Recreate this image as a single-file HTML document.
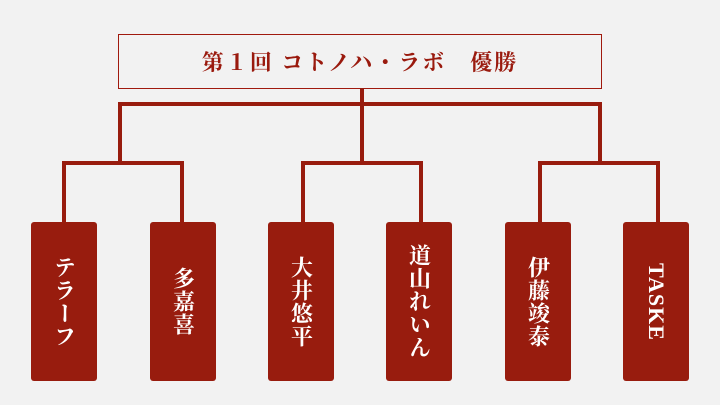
<!DOCTYPE html>
<html><head><meta charset="utf-8"><style>
body{margin:0;width:720px;height:405px;background:#f2f2f2;position:relative;overflow:hidden;font-family:"Liberation Serif","Noto Serif CJK SC",serif}
.t{position:absolute;left:118px;top:34px;width:482px;height:53px;border:1px solid #a01a0e;color:#9a1a0e;font-weight:bold;font-size:22px;display:flex;align-items:center;justify-content:center;letter-spacing:2px}
.l{position:absolute;background:#981c0e}
.b{position:absolute;top:222px;width:66px;height:159px;background:#981c0e;border-radius:3px;color:#fff;font-size:22px;font-weight:bold;display:flex;align-items:center;justify-content:center}
.b span{writing-mode:vertical-rl;letter-spacing:1px}
</style></head><body>
<div class="t">第１回 コトノハ・ラボ　優勝</div>
<div class="l" style="left:360px;top:88px;width:4px;height:16px"></div>
<div class="l" style="left:118px;top:102px;width:484px;height:4px"></div>
<div class="l" style="left:118px;top:102px;width:4px;height:62px"></div>
<div class="l" style="left:360px;top:102px;width:4px;height:62px"></div>
<div class="l" style="left:598px;top:102px;width:4px;height:62px"></div>
<div class="l" style="left:62px;top:161px;width:122px;height:4px"></div>
<div class="l" style="left:62px;top:161px;width:4px;height:61px"></div>
<div class="l" style="left:180px;top:161px;width:4px;height:61px"></div>
<div class="l" style="left:301px;top:161px;width:122px;height:4px"></div>
<div class="l" style="left:301px;top:161px;width:4px;height:61px"></div>
<div class="l" style="left:419px;top:161px;width:4px;height:61px"></div>
<div class="l" style="left:538px;top:161px;width:122px;height:4px"></div>
<div class="l" style="left:538px;top:161px;width:4px;height:61px"></div>
<div class="l" style="left:656px;top:161px;width:4px;height:61px"></div>
<div class="b" style="left:31px"><span>テラーフ</span></div>
<div class="b" style="left:150px"><span>多嘉喜</span></div>
<div class="b" style="left:268px"><span>大井悠平</span></div>
<div class="b" style="left:386px"><span>道山れいん</span></div>
<div class="b" style="left:505px"><span>伊藤竣泰</span></div>
<div class="b" style="left:623px"><span>TASKE</span></div>
</body></html>
